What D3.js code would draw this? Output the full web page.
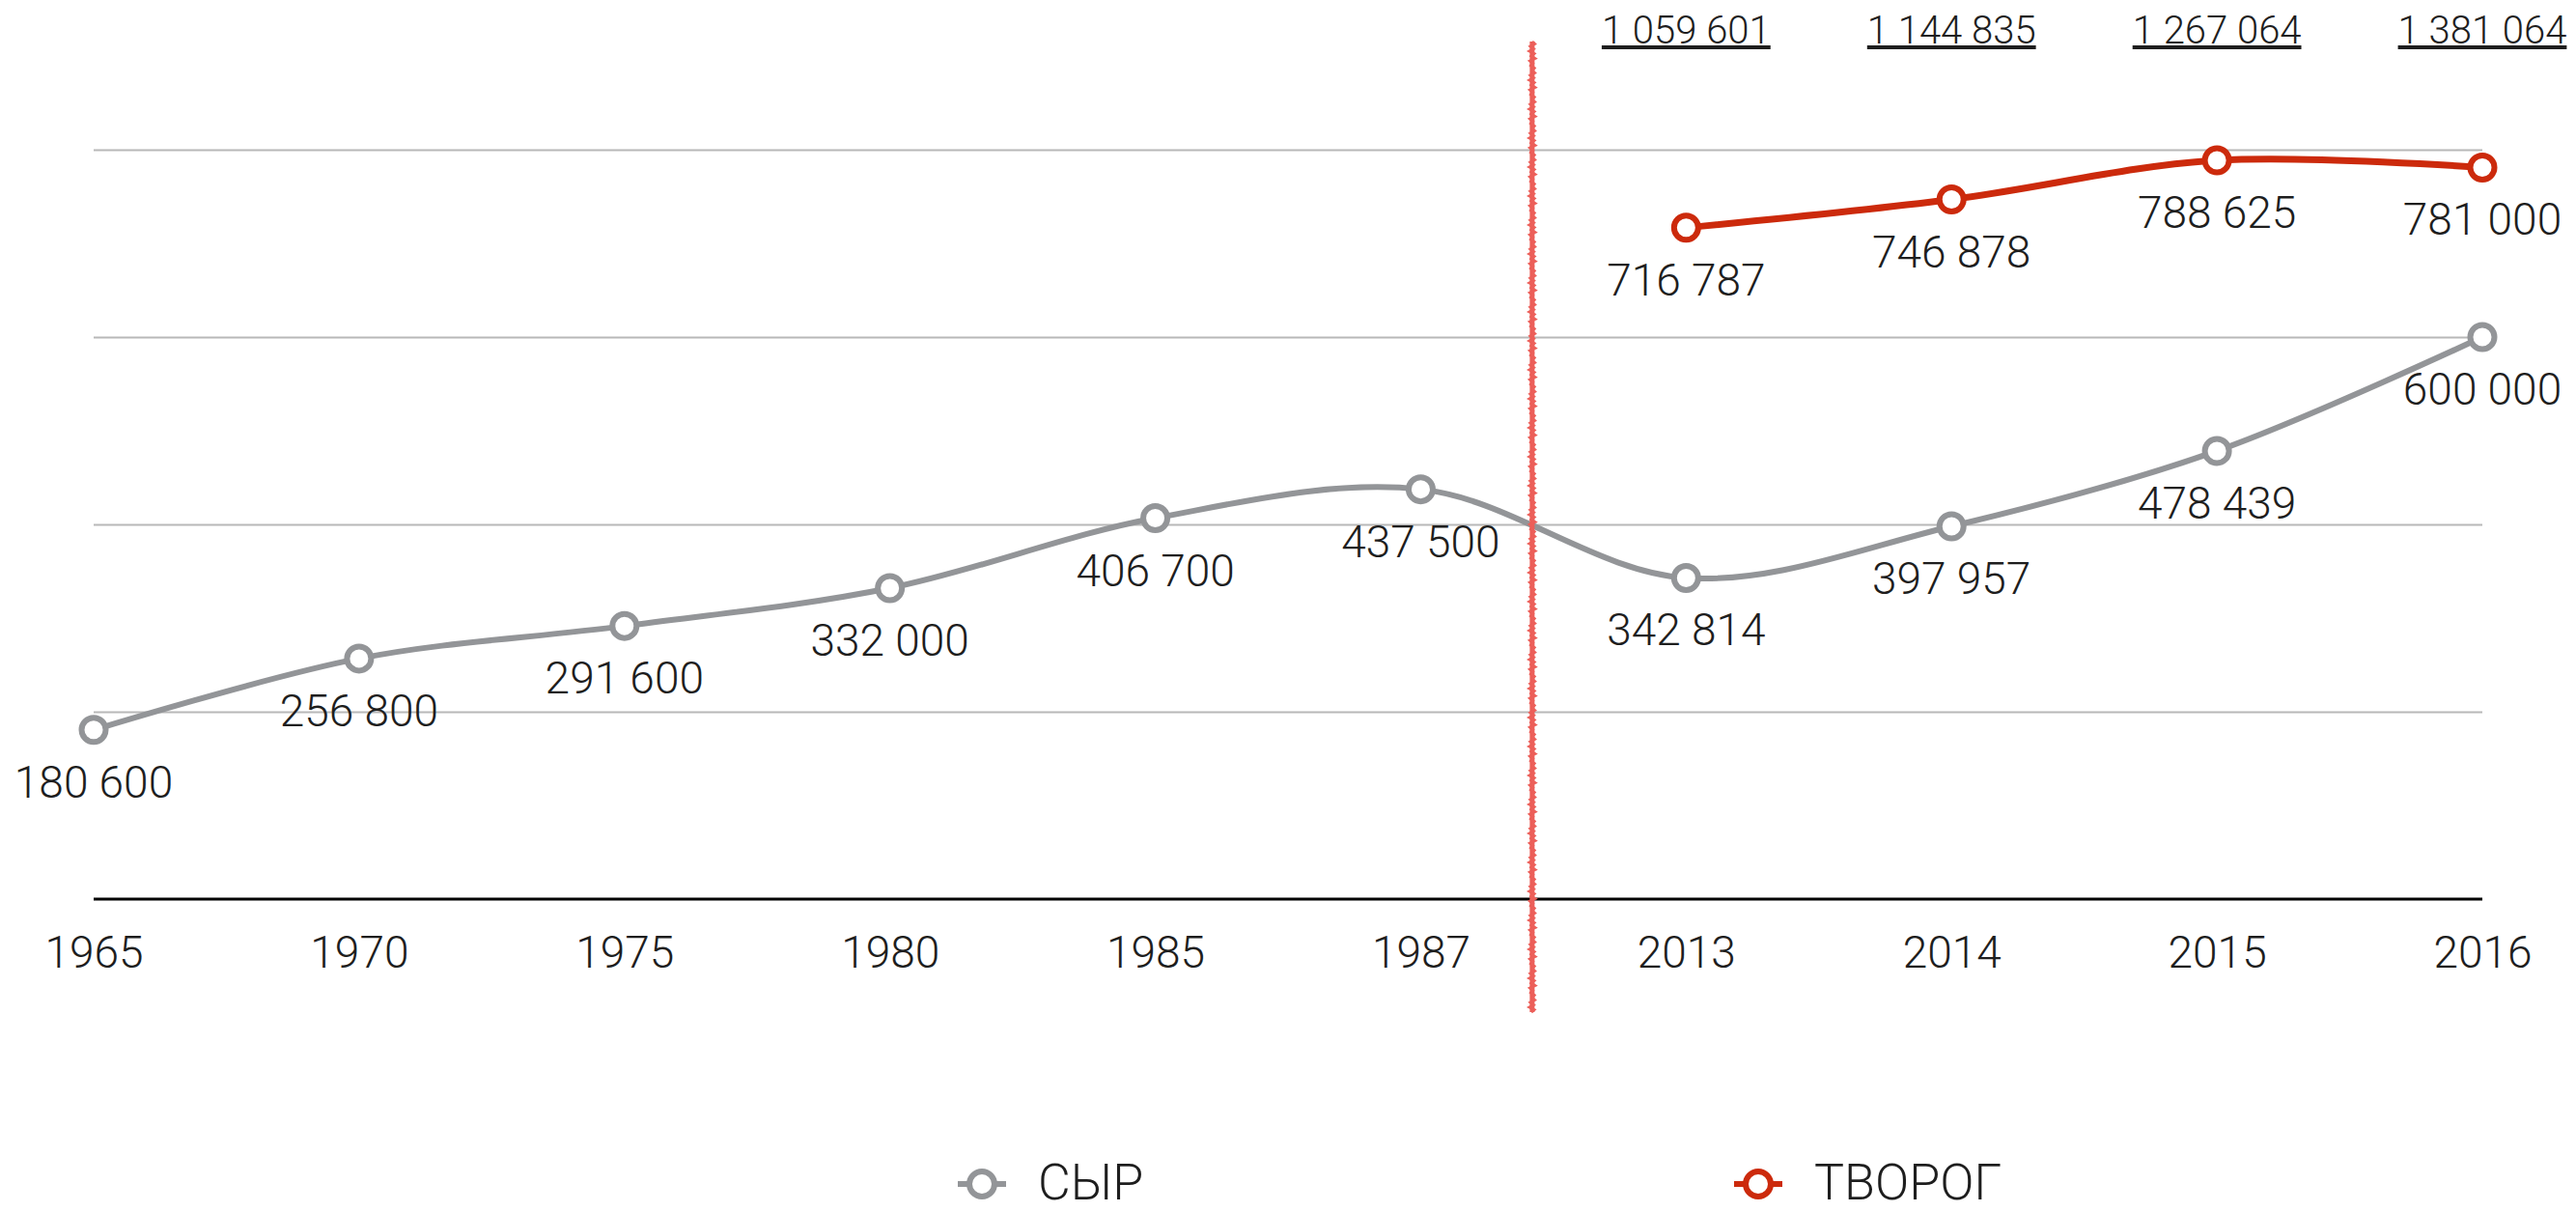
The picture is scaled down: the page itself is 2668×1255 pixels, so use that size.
<!DOCTYPE html>
<html>
<head>
<meta charset="utf-8">
<script src="https://cdn.jsdelivr.net/npm/d3@7"></script>
<style>
  body { margin: 0; background: #fff; }
  text { font-family: Roboto, "Open Sans", "Liberation Sans", sans-serif; font-weight: 300; fill: #1e1e1e; }
</style>
</head>
<body>
<div class="graph"></div>
<script>
const years = ['1965', '1970', '1975', '1980', '1985', '1987', '2013', '2014', '2015', '2016'];
const cheeseValues = [180600, 256800, 291600, 332000, 406700, 437500, 342814, 397957, 478439, 600000];
const curdYears = ['2013', '2014', '2015', '2016'];
const curdValues = [716787, 746878, 788625, 781000];
const totalLabels = [1059601, 1144835, 1267064, 1381064];
const gridTicks = [200000, 400000, 600000, 800000];
const seriesNames = ['СЫР', 'ТВОРОГ'];

const width = 2668, height = 1255;
const grey = '#939598', red = '#cc2a0c';

const fmt = d3.formatLocale({ decimal: ',', thousands: '\u00a0', grouping: [3], currency: ['', ''] }).format(',d');

const svg = d3.select('.graph')
    .append('svg')
    .attr('width', width)
    .attr('height', height);

const xScale = d3.scalePoint()
    .domain(years)
    .range([97, 2571]);
const yScale = d3.scaleLinear()
    .domain([0, 800000])
    .range([931, 155]);

// grid
const yAxis = d3.axisLeft(yScale)
    .tickValues(gridTicks)
    .tickSize(-(2571 - 97))
    .tickFormat('');
svg.append('g')
    .attr('transform', 'translate(97,0)')
    .call(yAxis)
    .call(g => g.select('.domain').remove())
    .call(g => g.selectAll('.tick line').attr('stroke', '#b8b8b8').attr('stroke-width', 2));

// x axis
const xAxis = d3.axisBottom(xScale).tickSize(0).tickPadding(0);
svg.append('g')
    .attr('transform', `translate(0,${yScale(0)})`)
    .call(xAxis)
    .call(g => g.select('.domain').remove())
    .call(g => g.selectAll('.tick text')
        .attr('dy', null)
        .attr('y', 71)
        .attr('fill', '#1e1e1e')
        .style('font-size', '46px')
        .style('font-family', 'Roboto, "Open Sans", sans-serif')
        .style('font-weight', 300));
svg.append('line')
    .attr('x1', 97).attr('x2', 2571)
    .attr('y1', yScale(0)).attr('y2', yScale(0))
    .attr('stroke', '#000')
    .attr('stroke-width', 3);

// lines
const cheese = years.map((y, i) => ({ year: y, value: cheeseValues[i] }));
const curd = curdYears.map((y, i) => ({ year: y, value: curdValues[i] }));
const line = d3.line()
    .x(d => xScale(d.year))
    .y(d => yScale(d.value))
    .curve(d3.curveCatmullRom);

svg.append('path')
    .datum(cheese)
    .attr('fill', 'none')
    .attr('stroke', grey)
    .attr('stroke-width', 6)
    .attr('d', line);
svg.append('path')
    .datum(curd)
    .attr('fill', 'none')
    .attr('stroke', red)
    .attr('stroke-width', 7)
    .attr('d', line);

// rough red separator between 1987 and 2013
const sepX = xScale('1987') + xScale.step() * 0.42;
const jitter = [0, 2.6, -1.8, 1.4, -2.8, 2, -0.9, 2.9, -2.3, 0.6, -1.4, 2.2];
const sepPts = d3.range(43, 1049, 2.5).map((y, i) => [sepX + jitter[i % jitter.length], y]);
svg.append('line')
    .attr('x1', sepX).attr('x2', sepX)
    .attr('y1', 43).attr('y2', 1048)
    .attr('stroke', '#ec5f59')
    .attr('stroke-width', 5);
svg.append('path')
    .attr('d', d3.line()(sepPts))
    .attr('fill', 'none')
    .attr('stroke', '#ec5f59')
    .attr('stroke-width', 3);

// points
function points(data, color) {
    svg.append('g').selectAll('circle')
        .data(data)
        .enter()
        .append('circle')
        .attr('cx', d => xScale(d.year))
        .attr('cy', d => yScale(d.value))
        .attr('r', 12.5)
        .attr('fill', '#fff')
        .attr('stroke', color)
        .attr('stroke-width', 6);
}
points(cheese, grey);
points(curd, red);

// value labels
function labels(data) {
    svg.append('g').selectAll('text')
        .data(data)
        .enter()
        .append('text')
        .attr('x', d => xScale(d.year))
        .attr('y', d => yScale(d.value) + 70)
        .style('font-size', '46px')
        .style('text-anchor', 'middle')
        .text(d => fmt(d.value));
}
labels(cheese);
labels(curd);

// totals on top
svg.append('g').selectAll('text')
    .data(curdYears)
    .enter()
    .append('text')
    .attr('x', d => xScale(d))
    .attr('y', 45)
    .style('font-size', '40px')
    .style('text-anchor', 'middle')
    .style('text-decoration', 'underline')
    .text((d, i) => fmt(totalLabels[i]));

// legend
const legend = [
    { name: seriesNames[0], color: grey, x: 1017 },
    { name: seriesNames[1], color: red, x: 1821 }
];
const lg = svg.append('g').selectAll('g')
    .data(legend)
    .enter()
    .append('g')
    .attr('transform', d => `translate(${d.x},1226)`);
lg.append('line')
    .attr('x1', -25).attr('x2', 25)
    .attr('stroke', d => d.color)
    .attr('stroke-width', 6);
lg.append('circle')
    .attr('r', 13)
    .attr('fill', '#fff')
    .attr('stroke', d => d.color)
    .attr('stroke-width', 6);
lg.append('text')
    .attr('x', 58)
    .attr('y', 16)
    .style('font-size', '52px')
    .text(d => d.name);
</script>
</body>
</html>
